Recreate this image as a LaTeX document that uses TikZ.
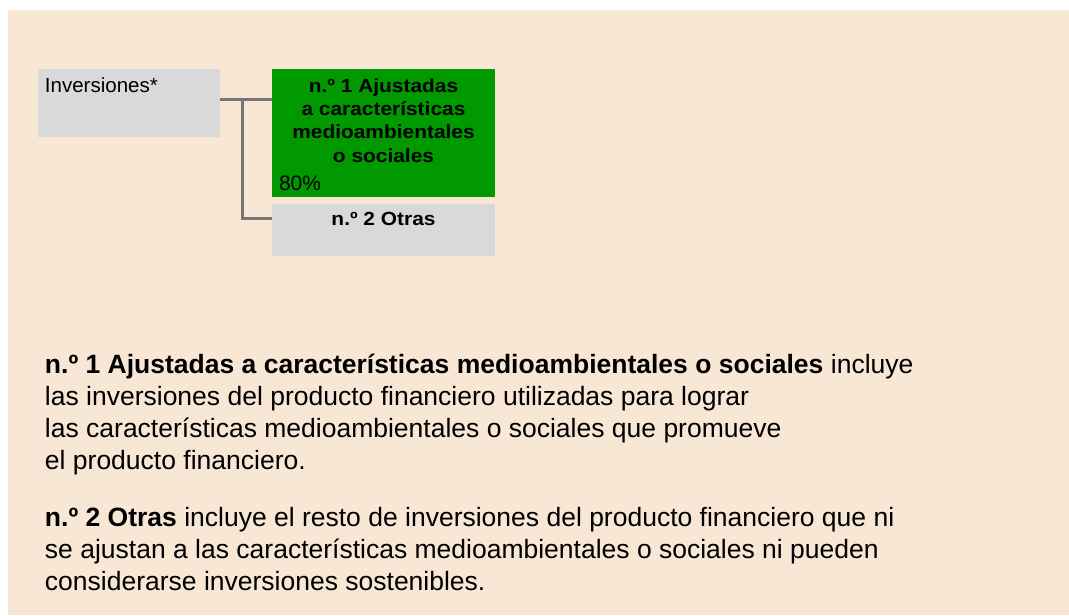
\documentclass[tikz,border=0pt]{standalone}
\usepackage{fontspec}
\setmainfont{Liberation Sans}
\newfontfamily\widefont[FakeStretch=1.1]{Liberation Sans}
\usetikzlibrary{positioning}
\definecolor{pagebg}{RGB}{249,231,213}
\definecolor{boxgray}{RGB}{217,217,217}
\definecolor{boxgreen}{RGB}{0,153,0}
\definecolor{linkgray}{RGB}{118,118,118}

\begin{document}
\begin{tikzpicture}[
    x=1pt,y=-1pt,
    node distance=7pt,
    every node/.style={inner sep=0pt,outer sep=0pt},
    box/.style={minimum width=223pt,minimum height=128pt},
    title/.style={font=\widefont\bfseries\fontsize{19}{23.3}\selectfont,align=center,anchor=base},
    plain/.style={font=\fontsize{20.5}{24}\selectfont,anchor=base west},
    para/.style={font=\fontsize{26.5}{32}\selectfont,align=left,anchor=base west},
    link/.style={draw=linkgray,line width=3pt}
]
\useasboundingbox (0,0) rectangle (1069,616);
\fill[pagebg] (8,10) rectangle (1069,615);

% boxes
\node[fill=boxgray,minimum width=182pt,minimum height=68pt,anchor=north west] (inv) at (38,69) {};
\node[box,fill=boxgreen,anchor=north west] (green) at (272,69) {};
\node[box,fill=boxgray,minimum height=52pt,below=of green] (otras) {};

% texts in the boxes (base = last line)
\node[plain] (invtxt) at (45,92) {Inversiones*};
\node[title] (greentxt) at (383.5,162) {n.º 1 Ajustadas\\a características\\medioambientales\\o sociales};
\node[plain,font=\fontsize{21}{24}\selectfont] (pct) at (279,190) {80\%};
\node[title] (otrastxt) at (383.5,225) {n.º 2 Otras};

% connectors
\coordinate (fork) at (242,99);
\coordinate (forkend) at (242,218);
\draw[link] (inv.east |- fork) -- (green.west |- fork);
\draw[link] (fork) |- (otras.west |- forkend);

% legend
\node[para] (par1) at (45,469) {\textbf{n.º 1 Ajustadas a características medioambientales o sociales} incluye\\
las inversiones del producto financiero utilizadas para lograr\\
las características medioambientales o sociales que promueve\\
el producto financiero.};
\node[para] (par2) at (45,590) {\textbf{n.º 2 Otras} incluye el resto de inversiones del producto financiero que ni\\
se ajustan a las características medioambientales o sociales ni pueden\\
considerarse inversiones sostenibles.};
\end{tikzpicture}
\end{document}
